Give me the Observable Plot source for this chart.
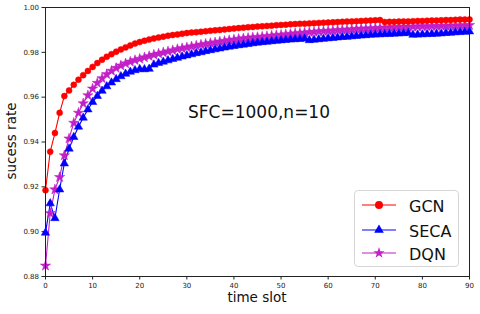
<!DOCTYPE html>
<html><head><meta charset="utf-8">
<script src="https://cdn.jsdelivr.net/npm/d3@7"></script>
<script src="https://cdn.jsdelivr.net/npm/@observablehq/plot@0.6"></script>
<style>
body{margin:0;background:#fff;font-family:"DejaVu Sans",sans-serif}
#wrap{position:relative;width:480px;height:314px;overflow:hidden}
.ov{position:absolute;white-space:nowrap;color:#111;line-height:1}
#legend{position:absolute;left:354px;top:190px;width:105px;height:77px;border:1px solid #d6d6d6;border-radius:4px;background:rgba(255,255,255,0.85);box-sizing:border-box}
.lrow{position:absolute;left:0;height:20px;width:105px}
.lrow svg{position:absolute;left:6px;top:0}
.lrow span{position:absolute;left:54px;top:2px;font-size:16px;color:#111}
</style></head><body><div id="wrap"></div>
<script>
const timeSlots = d3.range(0, 91);
const seriesNames = ["GCN", "SECA", "DQN"];
const seriesColors = ["#ff0000", "#0000ff", "#c21fc8"];
const seriesSymbols = ["circle", "triangle", "star"];
const xTicks = [0, 10, 20, 30, 40, 50, 60, 70, 80, 90];
const yTicks = [0.88, 0.90, 0.92, 0.94, 0.96, 0.98, 1.00];

const gcn = [0.9185,0.9357,0.9440,0.9530,0.9605,0.9630,0.9655,0.9678,0.9698,0.9717,
0.9735,0.9752,0.9767,0.9780,0.9792,0.9803,0.9813,0.9822,0.9831,0.9839,
0.9846,0.9852,0.9857,0.9862,0.9866,0.9870,0.9874,0.9877,0.9880,0.9883,
0.9886,0.9888,0.9890,0.9892,0.9894,0.9896,0.9898,0.9900,0.9902,0.9904,
0.9906,0.9908,0.9910,0.9912,0.9913,0.9915,0.9916,0.9918,0.9919,0.9921,
0.9922,0.9923,0.9925,0.9926,0.9927,0.9928,0.9929,0.9930,0.9931,0.9932,
0.9933,0.9934,0.9935,0.9936,0.9937,0.9938,0.9939,0.9940,0.9941,0.9942,
0.9943,0.9944,0.9935,0.9936,0.9936,0.9937,0.9938,0.9938,0.9939,0.9940,
0.9940,0.9941,0.9942,0.9942,0.9943,0.9944,0.9944,0.9945,0.9946,0.9946,0.9947];

const seca = [0.8995,0.9126,0.9060,0.9188,0.9304,0.9370,0.9422,0.9468,0.9508,0.9545,
0.9578,0.9605,0.9628,0.9648,0.9665,0.9680,0.9693,0.9704,0.9713,0.9720,
0.9725,0.9724,0.9726,0.9745,0.9752,0.9758,0.9764,0.9770,0.9775,0.9781,
0.9786,0.9791,0.9796,0.9800,0.9805,0.9809,0.9813,0.9817,0.9821,0.9825,
0.9828,0.9831,0.9834,0.9837,0.9840,0.9843,0.9845,0.9847,0.9849,0.9851,
0.9853,0.9855,0.9857,0.9858,0.9859,0.9861,0.9854,0.9856,0.9858,0.9860,
0.9862,0.9864,0.9866,0.9868,0.9869,0.9871,0.9873,0.9875,0.9876,0.9878,
0.9879,0.9880,0.9881,0.9882,0.9883,0.9884,0.9885,0.9886,0.9878,0.9879,
0.9880,0.9881,0.9882,0.9883,0.9884,0.9886,0.9887,0.9889,0.9890,0.9891,0.9893];

const dqn = [0.8848,0.9082,0.9188,0.9243,0.9340,0.9415,0.9485,0.9530,0.9572,0.9608,
0.9638,0.9663,0.9684,0.9702,0.9717,0.9730,0.9741,0.9750,0.9758,0.9765,
0.9771,0.9777,0.9783,0.9789,0.9794,0.9799,0.9804,0.9809,0.9814,0.9818,
0.9822,0.9826,0.9830,0.9834,0.9838,0.9841,0.9844,0.9848,0.9851,0.9854,
0.9857,0.9860,0.9862,0.9864,0.9866,0.9868,0.9870,0.9872,0.9874,0.9876,
0.9878,0.9880,0.9882,0.9884,0.9886,0.9888,0.9890,0.9891,0.9893,0.9894,
0.9896,0.9897,0.9899,0.9900,0.9901,0.9902,0.9904,0.9905,0.9906,0.9907,
0.9908,0.9909,0.9910,0.9911,0.9912,0.9913,0.9913,0.9914,0.9914,0.9915,
0.9916,0.9916,0.9917,0.9917,0.9918,0.9918,0.9919,0.9919,0.9920,0.9920,0.9921];

const values = [gcn, seca, dqn];
const rows = [];
seriesNames.forEach((s, i) => timeSlots.forEach((t, j) => rows.push({s, t, v: values[i][j]})));

const color = {domain: seriesNames, range: seriesColors};
const symbol = {domain: seriesNames, range: seriesSymbols};

const chart = Plot.plot({
  width: 480, height: 314,
  marginLeft: 45, marginRight: 11, marginTop: 7, marginBottom: 38,
  style: {fontFamily: "DejaVu Sans", fontSize: "7px", background: "white", color: "#222"},
  x: {domain: [0, 90], ticks: xTicks, tickFormat: d => String(d), tickSize: 3.5, tickPadding: 3, label: null},
  y: {domain: [0.88, 1.0], ticks: yTicks, tickFormat: ".2f", tickSize: 3.5, tickPadding: 3, label: null},
  color, symbol,
  marks: [
    Plot.line(rows, {x: "t", y: "v", z: "s", stroke: "s", strokeWidth: 1.1}),
    Plot.dot(rows, {x: "t", y: "v", fill: "s", stroke: "s", symbol: "s", strokeWidth: 0.5,
      r: d => d.s === "GCN" ? 4.6 : d.s === "SECA" ? 5 : 5.4}),
    Plot.frame({stroke: "#222", strokeWidth: 1})
  ]
});
const wrap = document.getElementById("wrap");
wrap.appendChild(chart);

function ov(text, css) {
  const d = document.createElement("div");
  d.className = "ov"; d.textContent = text; d.style.cssText += css;
  wrap.appendChild(d); return d;
}
ov("time slot", "left:257px;top:291px;font-size:13.5px;transform:translateX(-50%);");
ov("sucess rate", "left:12px;top:141px;font-size:13.5px;transform:translate(-50%,-50%) rotate(-90deg);");
ov("SFC=1000,n=10", "left:188px;top:104px;font-size:17px;");

const legend = document.createElement("div");
legend.id = "legend";
wrap.appendChild(legend);
const ys = [4, 29, 52];
seriesNames.forEach((s, i) => {
  const row = document.createElement("div");
  row.className = "lrow"; row.style.top = ys[i] + "px";
  const svg = d3.create("svg").attr("width", 36).attr("height", 20);
  svg.append("line").attr("x1", 1).attr("x2", 35).attr("y1", 10).attr("y2", 10)
    .attr("stroke", seriesColors[i]).attr("stroke-width", 1.2);
  const sym = {circle: d3.symbolCircle, triangle: d3.symbolTriangle, star: d3.symbolStar}[seriesSymbols[i]];
  svg.append("path").attr("d", d3.symbol(sym, i === 0 ? 50 : 40)()).attr("transform", "translate(18,10)")
    .attr("fill", seriesColors[i]);
  row.appendChild(svg.node());
  const sp = document.createElement("span"); sp.textContent = s;
  row.appendChild(sp);
  legend.appendChild(row);
});
</script></body></html>
